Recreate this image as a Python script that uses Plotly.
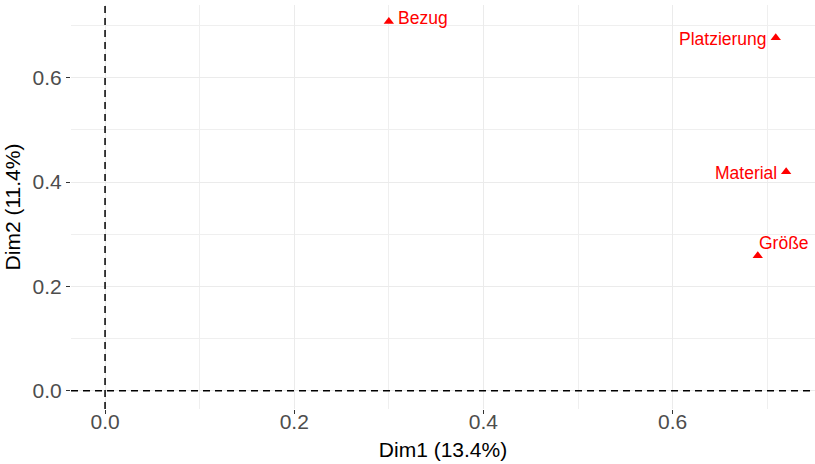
import plotly.graph_objects as go

# MCA variable coordinates (Dim1, Dim2)
variables = ["Bezug", "Platzierung", "Material", "Größe"]
dim1 = [0.300, 0.709, 0.720, 0.690]
dim2 = [0.708, 0.677, 0.420, 0.259]

# label placement (repel-like offsets, pixels)
label_anchor = ["left", "right", "right", "left"]
label_dx = [7, -7, -7, -1]
label_dy = [3, -1, -1, 13]

fig = go.Figure()
fig.add_trace(
    go.Scatter(
        x=dim1,
        y=dim2,
        mode="markers",
        marker=dict(symbol="triangle-up", color="red", size=9),
        showlegend=False,
        hoverinfo="text",
        text=variables,
    )
)

for name, x, y, anc, dx, dy in zip(variables, dim1, dim2, label_anchor, label_dx, label_dy):
    fig.add_annotation(
        x=x, y=y, text=name, showarrow=False,
        xanchor=anc, yanchor="middle", xshift=dx, yshift=dy,
        font=dict(color="red", size=17.5, family="Liberation Sans, Arial, sans-serif"),
    )

# reference lines at zero
fig.add_shape(type="line", xref="x", yref="paper", x0=0, x1=0, y0=0, y1=1,
              line=dict(color="black", width=1.5, dash="7px,5px"))
fig.add_shape(type="line", xref="paper", yref="y", x0=0, x1=1, y0=0, y1=0,
              line=dict(color="black", width=1.5, dash="7px,5px"))

axis_common = dict(
    showline=False,
    zeroline=False,
    showgrid=True,
    gridcolor="#EBEBEB",
    gridwidth=1.4,
    dtick=0.2,
    tick0=0,
    tickformat=".1f",
    ticks="outside",
    ticklen=4,
    tickwidth=1.2,
    tickcolor="#333333",
    tickfont=dict(size=21, color="#4D4D4D"),
    minor=dict(dtick=0.1, showgrid=True, gridcolor="#EFEFEF", gridwidth=1.2, ticks=""),
)

fig.update_xaxes(
    range=[-0.036, 0.7505],
    ticklabelstandoff=-10,
    title=dict(text="Dim1 (13.4%)", font=dict(size=21, color="black"), standoff=10),
    **axis_common,
)
fig.update_yaxes(
    range=[-0.035, 0.7396],
    title=dict(text="Dim2 (11.4%)", font=dict(size=21, color="black"), standoff=6),
    **axis_common,
)

fig.update_layout(
    width=815,
    height=464,
    margin=dict(l=71, r=0, t=5, b=55),
    plot_bgcolor="white",
    paper_bgcolor="white",
    font=dict(family="Liberation Sans, Arial, sans-serif"),
)

fig.write_html(
    "out.html",
    config={"displayModeBar": False},
    post_script="document.body.style.margin='0';",
)
